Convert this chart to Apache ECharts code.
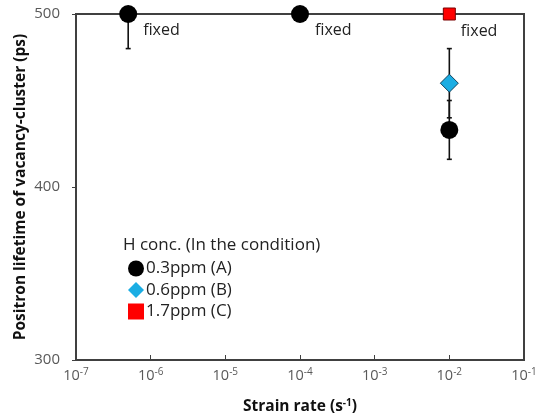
<!DOCTYPE html>
<html><head><meta charset="utf-8">
<script src="https://cdn.jsdelivr.net/npm/echarts@6/dist/echarts.min.js"></script>
<style>html,body{margin:0;padding:0;background:#fff}#c{width:540px;height:418px}</style>
</head><body><div id="c"></div>
<script>
// Data
var seriesNames = ['0.3ppm (A)', '0.6ppm (B)', '1.7ppm (C)'];
var strainA = [5e-7, 1e-4, 1e-2];
var lifetimeA = [500, 500, 433];
var errLowA = [20, 0, 17];
var errHighA = [0, 0, 17];
var labelA = ['fixed', 'fixed', ''];
var strainB = [1e-2];
var lifetimeB = [460];
var errLowB = [20];
var errHighB = [20];
var labelB = [''];
var strainC = [1e-2];
var lifetimeC = [500];
var errLowC = [0];
var errHighC = [0];
var labelC = ['fixed'];
var yTicks = [300, 400, 500];
var legendTitle = 'H conc. (In the condition)';

var FONT = '"Open Sans", sans-serif';

function pts(xs, ys, labels, off) {
  return xs.map(function (x, i) {
    return {
      value: [x, ys[i]],
      label: { show: !!labels[i], formatter: labels[i], position: 'right', offset: off }
    };
  });
}
function errData(xs, ys, lo, hi) {
  var out = [];
  xs.forEach(function (x, i) {
    if (lo[i] > 0 || hi[i] > 0) out.push([x, ys[i] - lo[i], ys[i] + hi[i]]);
  });
  return out;
}
var errAll = errData(strainA, lifetimeA, errLowA, errHighA)
  .concat(errData(strainB, lifetimeB, errLowB, errHighB))
  .concat(errData(strainC, lifetimeC, errLowC, errHighC));

var chart = echarts.init(document.getElementById('c'), null, { renderer: 'canvas' });
var labelStyle = { color: '#222', fontSize: 16, fontFamily: FONT };
chart.setOption({
  animation: false,
  grid: { left: 76, right: 16, top: 14, bottom: 58, containLabel: false, outerBoundsMode: 'none',
    show: true, borderColor: '#404040', borderWidth: 2 },
  xAxis: {
    type: 'log', logBase: 10, min: 1e-7, max: 1e-1,
    name: 'Strain rate (s{sup|-1})', nameLocation: 'middle', nameGap: 38, nameMoveOverlap: false,
    nameTextStyle: { fontSize: 15.5, fontWeight: 'bold', color: '#111', fontFamily: FONT,
      rich: { sup: { fontSize: 10, fontWeight: 'bold', verticalAlign: 'top', padding: [0,0,8,0], color: '#111', fontFamily: FONT } } },
    axisLine: { lineStyle: { color: '#404040', width: 2 } },
    axisTick: { inside: true, length: 5, lineStyle: { color: '#404040', width: 1 } },
    minorTick: { show: false },
    splitLine: { show: false },
    axisLabel: {
      margin: 7, color: '#595959', fontSize: 14.5, fontFamily: FONT,
      formatter: function (v) { return '10{sup|' + Math.round(Math.log10(v)) + '}'; },
      rich: { sup: { fontSize: 10, verticalAlign: 'top', padding: [0,0,7,0], color: '#595959', fontFamily: FONT } }
    }
  },
  yAxis: {
    type: 'value', min: yTicks[0], max: yTicks[yTicks.length - 1], interval: 100,
    name: 'Positron lifetime of vacancy-cluster (ps)', nameLocation: 'middle', nameGap: 47, nameMoveOverlap: false,
    nameTextStyle: { fontSize: 15.5, fontWeight: 'bold', color: '#111', fontFamily: FONT },
    axisLine: { show: true, lineStyle: { color: '#404040', width: 2 } },
    axisTick: { show: true, inside: false, length: 4, lineStyle: { color: '#404040' } },
    splitLine: { show: false },
    axisLabel: { margin: 16, color: '#595959', fontSize: 15, fontFamily: FONT }
  },
  legend: {
    orient: 'vertical', left: 123, top: 255, itemGap: 4.5, itemWidth: 16, itemHeight: 16,
    textStyle: { color: '#222', fontSize: 17, fontFamily: FONT, padding: [0,0,0,-3] },
    data: [
      { name: seriesNames[0], icon: 'circle', itemStyle: { borderWidth: 0 } },
      { name: seriesNames[1], icon: 'diamond', itemStyle: { borderWidth: 0 } },
      { name: seriesNames[2], icon: 'rect', itemStyle: { borderWidth: 0 } }
    ]
  },
  graphic: [{
    type: 'text', left: 123, top: 237,
    style: { text: legendTitle, fill: '#222', font: '17px ' + FONT }
  }],
  series: [
    {
      type: 'custom', name: 'err', silent: true, z: 1,
      data: errAll,
      renderItem: function (params, api) {
        var lo = api.coord([api.value(0), api.value(1)]);
        var hi = api.coord([api.value(0), api.value(2)]);
        var w = 2.5;
        var st = { stroke: '#111', lineWidth: 1.6 };
        return { type: 'group', children: [
          { type: 'line', shape: { x1: lo[0], y1: lo[1], x2: hi[0], y2: hi[1] }, style: st },
          { type: 'line', shape: { x1: lo[0] - w, y1: lo[1], x2: lo[0] + w, y2: lo[1] }, style: st },
          { type: 'line', shape: { x1: hi[0] - w, y1: hi[1], x2: hi[0] + w, y2: hi[1] }, style: st }
        ] };
      }
    },
    {
      type: 'scatter', name: seriesNames[0], symbol: 'circle', symbolSize: 18, clip: false, z: 3,
      itemStyle: { color: '#000', opacity: 1 },
      label: labelStyle,
      data: pts(strainA, lifetimeA, labelA, [1, 16])
    },
    {
      type: 'scatter', name: seriesNames[1], symbol: 'diamond', symbolSize: 18, clip: false, z: 3,
      itemStyle: { color: '#1BADE3', borderColor: '#10435e', borderWidth: 1, opacity: 1 },
      label: labelStyle,
      data: pts(strainB, lifetimeB, labelB, [1, 16])
    },
    {
      type: 'scatter', name: seriesNames[2], symbol: 'rect', symbolSize: 12, clip: false, z: 3,
      itemStyle: { color: '#FF0000', borderColor: '#7a0000', borderWidth: 1, opacity: 1 },
      label: labelStyle,
      data: pts(strainC, lifetimeC, labelC, [0, 17])
    }
  ]
});
</script></body></html>
